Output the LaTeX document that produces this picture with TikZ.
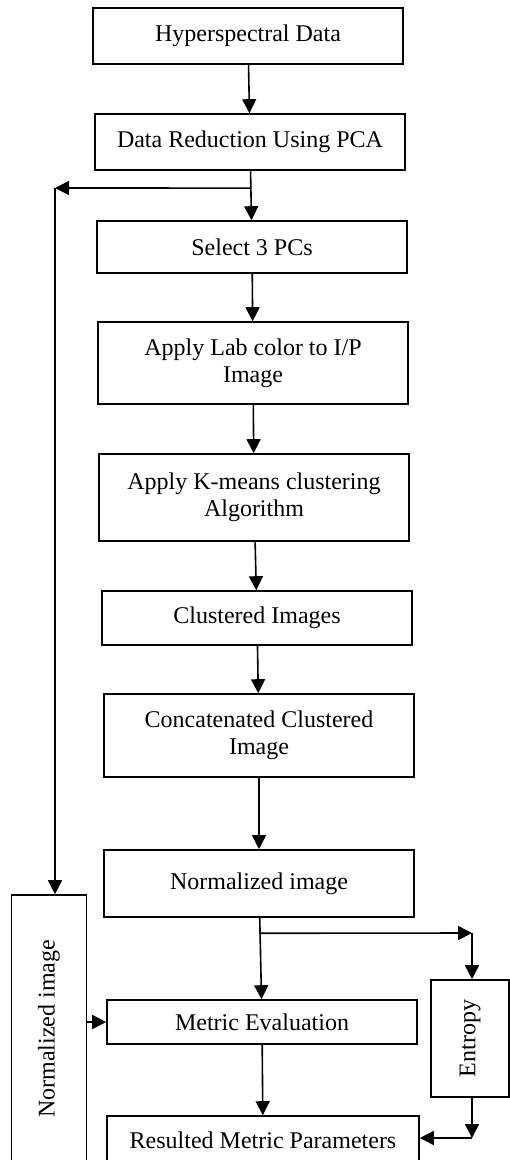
\documentclass[tikz,border=0pt]{standalone}
\usepackage{fontspec}
\setmainfont{Liberation Serif}
\usepackage{graphicx}
\usepackage{tikz}
\usetikzlibrary{positioning}
\usetikzlibrary{calc}
\usetikzlibrary{arrows.meta}
\tikzset{every picture/.style={line width=0.8pt},box/.style={draw,minimum width=155pt,align=center,font=\fontsize{12}{13.5}\selectfont},sidebox/.style={draw,align=center,font=\fontsize{12}{13.5}\selectfont},arr/.style={-{Triangle[length=7pt,width=7pt]}}}

\begin{document}
\begin{tikzpicture}
\useasboundingbox (0,0) rectangle (254.5pt,-580pt);
\node (hyp) [box, minimum height=28pt] at (124pt,-18pt) {Hyperspectral Data};
\node (red) [box, below of=hyp, node distance=53pt, xshift=1pt, minimum height=28pt] {Data Reduction Using PCA};
\node (sel) [box, below of=red, node distance=52.5pt, xshift=1pt, minimum height=26pt] {Select 3 PCs};
\node (lab) [box, below of=sel, node distance=58pt, xshift=0.5pt, minimum height=41pt] {Apply Lab color to I/P\\Image};
\node (km) [box, below of=lab, node distance=67.25pt, xshift=0.5pt, minimum height=43.5pt] {Apply K-means clustering\\Algorithm};
\node (clu) [box, below of=km, node distance=60.25pt, xshift=1.5pt, minimum height=27pt] {Clustered Images};
\node (con) [box, below of=clu, node distance=58.75pt, xshift=1pt, minimum height=41.5pt] {Concatenated Clustered\\Image};
\node (nrm) [box, below of=con, node distance=74pt, minimum height=33.5pt] {Normalized image};
\node (met) [box, below of=nrm, node distance=69.25pt, xshift=1.5pt, minimum height=22pt] {Metric Evaluation};
\node (res) [box, below of=met, node distance=59pt, xshift=0.5pt, minimum width=156pt, minimum height=24pt] {Resulted Metric Parameters};
\node (vbox) [sidebox, minimum width=37.5pt, minimum height=134pt] at (24.5pt,-514.5pt) {\rotatebox{90}{Normalized image}};
\node (ent) [sidebox, minimum width=39pt, minimum height=58.5pt] at (235pt,-519.25pt) {\rotatebox{90}{Entropy}};

\coordinate (fork1) at ($(red.south)!0.35!(sel.north)$);
\coordinate (left1) at (27.5pt,-94pt);
\coordinate (fork2) at ($(nrm.south)!0.19!(met.north)$);
\coordinate (right1) at (236pt,-466.5pt);
\coordinate (right2) at (236pt,-569pt);

\draw[arr] (hyp) -- (red);
\draw[arr] (red) -- (sel);
\draw[arr] (sel) -- (lab);
\draw[arr] (lab) -- (km);
\draw[arr] (km) -- (clu);
\draw[arr] (clu) -- (con);
\draw[arr] (con) -- (nrm);
\draw[arr] (nrm) -- (met);
\draw[arr] (met) -- (res);
%feedback to the side box
\draw[arr] (fork1) -- (left1);
\draw[arr] (left1) -- (left1 |- vbox.north);
\draw[arr] (vbox.east |- met.west) -- (met.west);
%entropy branch
\draw[arr] (fork2 -| nrm.south) -- (right1);
\draw[arr] (right1) -- (right1 |- ent.north);
\draw[arr] (ent.south -| right1) -- (right2);
\draw[arr] (right2) -- (right2 -| res.east);
\end{tikzpicture}
\end{document}
